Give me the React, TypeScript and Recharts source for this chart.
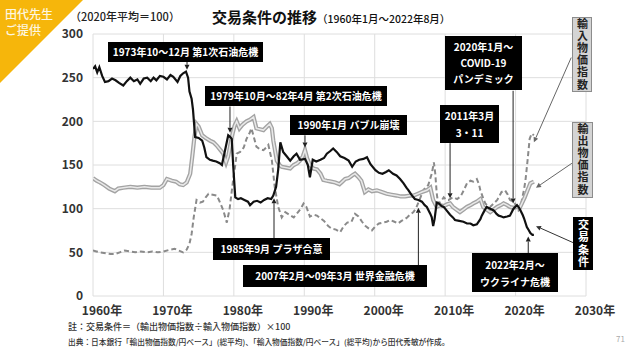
import React from "react"
import { LineChart, Line, XAxis, YAxis, CartesianGrid, ReferenceLine } from "recharts"

// 交易条件 (輸出物価指数 ÷ 輸入物価指数 × 100)
const tradeYears = [
  1960.0, 1960.3, 1960.6, 1960.9, 1961.3, 1961.7, 1962.2, 1962.7, 1963.2, 1963.7, 1964.3, 1964.8,
  1965.3, 1965.8, 1966.3, 1966.7, 1967.2, 1967.7, 1968.2, 1968.6, 1969.0, 1969.5, 1970.0, 1970.5,
  1971.0, 1971.4, 1972.0, 1972.4, 1972.8, 1973.2, 1973.5, 1973.7, 1974.0, 1974.2, 1974.5, 1975.0,
  1975.5, 1975.8, 1976.1, 1976.6, 1977.0, 1977.5, 1978.0, 1978.3, 1978.7, 1979.2, 1979.5, 1979.7,
  1979.9, 1980.2, 1980.6, 1981.0, 1981.5, 1982.0, 1982.3, 1982.8, 1983.3, 1983.8, 1984.3, 1984.8,
  1985.3, 1985.6, 1986.0, 1986.3, 1986.6, 1987.0, 1987.5, 1988.0, 1988.5, 1988.9, 1989.4, 1990.1,
  1990.5, 1990.8, 1991.2, 1991.7, 1992.3, 1992.8, 1993.2, 1993.7, 1994.1, 1994.6, 1995.1, 1995.7,
  1996.3, 1996.8, 1997.3, 1997.8, 1998.4, 1998.9, 1999.4, 2000.1, 2000.6, 2001.1, 2001.6, 2002.0,
  2002.6, 2003.1, 2003.6, 2004.1, 2004.5, 2004.8, 2005.2, 2005.7, 2006.2, 2006.7, 2007.1, 2007.4,
  2007.9, 2008.1, 2008.3, 2008.5, 2008.8, 2009.1, 2009.5, 2009.8, 2010.2, 2010.7, 2011.1, 2011.4,
  2012.0, 2012.6, 2013.1, 2013.6, 2014.0, 2014.5, 2015.0, 2015.2, 2015.6, 2015.9, 2016.4, 2016.9,
  2017.3, 2017.6, 2018.0, 2018.3, 2018.8, 2019.2, 2019.7, 2020.2, 2020.5, 2020.7, 2021.0, 2021.2,
  2021.6, 2021.9, 2022.1, 2022.4, 2022.6,
]
const tradeValues = [
  260, 263, 256, 262, 252, 245, 246, 249, 247, 244, 241, 246,
  250, 246, 248, 243, 249, 250, 246, 250, 247, 252, 251, 248,
  253, 251, 245, 252, 255, 257, 250, 234, 226, 213, 182, 181,
  178, 170, 159, 156, 155, 154, 152, 150, 165, 184, 182, 180,
  150, 113, 111, 112, 110, 108, 104, 108, 109, 107, 110, 112,
  111, 115, 125, 145, 176, 165, 160, 155, 160, 163, 156, 157,
  150, 136, 156, 154, 156, 158, 163, 166, 169, 165, 160, 158,
  155, 148, 154, 156, 157, 159, 151, 144, 141, 140, 142, 144,
  140, 138, 134, 129, 124, 121, 116, 111, 110, 108, 104, 102,
  94, 90, 80, 88, 107, 106, 103, 102, 98, 93, 90, 87,
  86, 85, 83, 83, 81, 82, 88, 92, 98, 102, 100, 98,
  94, 92, 91, 90, 91, 92, 100, 104, 101, 98, 93, 89,
  79, 75, 72, 70, 70,
]

// 輸出物価指数
const exportYears = [
  1960.0, 1960.5, 1961.0, 1961.6, 1962.3, 1963.1, 1963.6, 1964.3, 1965.3, 1966.3, 1967.3, 1968.3,
  1969.5, 1970.0, 1970.5, 1971.2, 1971.8, 1972.3, 1972.8, 1973.3, 1973.8, 1974.1, 1974.4, 1974.7,
  1975.0, 1975.5, 1976.0, 1976.6, 1977.1, 1977.6, 1978.1, 1978.5, 1978.9, 1979.2, 1979.7, 1980.1,
  1980.4, 1980.8, 1981.2, 1981.8, 1982.3, 1982.8, 1983.2, 1983.7, 1984.2, 1984.7, 1985.1, 1985.4,
  1985.6, 1986.1, 1986.5, 1986.8, 1987.4, 1988.0, 1988.5, 1989.0, 1989.4, 1989.8, 1990.1, 1990.4,
  1990.8, 1991.3, 1991.8, 1992.3, 1992.7, 1993.2, 1993.8, 1994.4, 1995.0, 1995.4, 1995.8, 1996.3,
  1996.8, 1997.2, 1997.7, 1998.1, 1998.6, 1999.1, 1999.6, 2000.3, 2001.0, 2001.7, 2002.4, 2003.1,
  2003.7, 2004.3, 2005.0, 2005.5, 2006.1, 2006.7, 2007.4, 2007.9, 2008.3, 2008.8, 2009.3, 2009.8,
  2010.3, 2010.7, 2011.1, 2011.6, 2012.1, 2012.6, 2013.1, 2013.6, 2014.0, 2014.5, 2015.0, 2015.4,
  2015.9, 2016.4, 2016.9, 2017.4, 2017.9, 2018.3, 2018.8, 2019.2, 2019.7, 2020.2, 2020.6, 2020.9,
  2021.3, 2021.6, 2021.9, 2022.1, 2022.6,
]
const exportValues = [
  135, 132, 130, 127, 123, 120, 123, 124, 125, 124, 125, 124,
  124, 127, 134, 132, 131, 128, 127, 130, 140, 160, 182, 197,
  194, 184, 181, 178, 176, 172, 167, 163, 153, 160, 182, 195,
  200, 192, 196, 200, 202, 205, 192, 191, 190, 194, 197, 192,
  178, 155, 150, 148, 147, 146, 150, 152, 155, 160, 167, 158,
  150, 146, 145, 140, 133, 132, 131, 130, 128, 131, 134, 135,
  138, 140, 136, 132, 119, 122, 120, 121, 119, 117, 116, 115,
  114, 114, 115, 115, 117, 119, 121, 124, 110, 102, 104, 103,
  105, 106, 102, 99, 96, 99, 102, 104, 106, 108, 111, 102,
  99, 96, 99, 102, 104, 106, 104, 102, 101, 102, 101, 106,
  113, 119, 125, 129, 131,
]

// 輸入物価指数
const importYears = [
  1960.0, 1960.5, 1961.0, 1961.8, 1962.5, 1963.1, 1963.8, 1964.5, 1965.2, 1966.0, 1966.8, 1967.6,
  1968.4, 1969.2, 1970.0, 1970.9, 1971.6, 1972.2, 1972.8, 1973.3, 1973.7, 1974.0, 1974.3, 1974.5,
  1974.7, 1975.2, 1975.6, 1976.0, 1976.4, 1977.0, 1977.6, 1978.1, 1978.5, 1979.0, 1979.4, 1979.7,
  1979.9, 1980.2, 1980.4, 1980.9, 1981.4, 1981.8, 1982.2, 1982.5, 1982.9, 1983.2, 1983.7, 1984.2,
  1984.6, 1984.9, 1985.4, 1985.8, 1986.3, 1986.8, 1987.3, 1987.9, 1988.5, 1989.0, 1989.5, 1989.9,
  1990.3, 1990.8, 1991.3, 1991.8, 1992.3, 1992.8, 1993.4, 1993.9, 1994.5, 1995.1, 1995.6, 1996.1,
  1996.7, 1997.2, 1997.7, 1998.2, 1998.7, 1999.2, 1999.6, 2000.1, 2000.6, 2001.1, 2001.7, 2002.2,
  2002.8, 2003.3, 2003.8, 2004.3, 2004.6, 2005.0, 2005.5, 2005.9, 2006.2, 2006.6, 2006.9, 2007.3,
  2007.6, 2007.9, 2008.1, 2008.4, 2008.6, 2008.8, 2009.0, 2009.4, 2009.8, 2010.2, 2010.5, 2010.9,
  2011.2, 2011.7, 2012.2, 2012.7, 2013.1, 2013.6, 2014.0, 2014.5, 2014.8, 2015.0, 2015.4, 2015.7,
  2016.1, 2016.4, 2016.9, 2017.4, 2017.8, 2018.0, 2018.5, 2018.9, 2019.2, 2019.6, 2019.9, 2020.4,
  2020.7, 2020.9, 2021.2, 2021.4, 2021.7, 2022.0, 2022.3, 2022.6,
]
const importValues = [
  52, 51, 50, 49, 48, 48, 50, 52, 51, 50, 51, 50,
  51, 50, 51, 53, 54, 52, 50, 53, 60, 71, 90, 100,
  110, 107, 108, 113, 117, 116, 115, 106, 98, 84, 100, 120,
  133, 150, 163, 165, 170, 180, 186, 192, 180, 171, 168, 167,
  170, 173, 155, 125, 102, 90, 96, 93, 90, 95, 100, 106,
  102, 91, 93, 92, 89, 86, 80, 77, 76, 73, 80, 84,
  85, 94, 91, 85, 80, 77, 75, 80, 83, 84, 85, 87,
  85, 83, 86, 88, 90, 93, 96, 101, 107, 115, 121, 125,
  127, 135, 140, 153, 140, 118, 106, 108, 113, 110, 110, 112,
  113, 111, 114, 122, 129, 132, 131, 134, 128, 121, 112, 106,
  103, 102, 106, 110, 116, 119, 121, 116, 110, 108, 106, 98,
  101, 110, 122, 132, 155, 180, 186, 184,
]

const yearTicks = [1960, 1970, 1980, 1990, 2000, 2010, 2020, 2030]
const valueTicks = [0, 50, 100, 150, 200, 250, 300]
const gridYears = [
  1960, 1963.3, 1966.7, 1970, 1973.3, 1976.7, 1980, 1983.3, 1986.7, 1990, 1993.3, 1996.7, 2000,
  2003.3, 2006.7, 2010, 2013.3, 2016.7, 2020, 2023.3, 2026.7, 2030,
]

const toPoints = (years: number[], values: number[]) =>
  years.map((year, i) => ({ year, value: values[i] }))

const tradeData = toPoints(tradeYears, tradeValues)
const exportData = toPoints(exportYears, exportValues)
const importData = toPoints(importYears, importValues)

// 注記の矢印 (始点 → 終点, データ座標)
const arrows = [
  { from: [1973.35, 268], to: [1973.35, 259], color: "#222" },
  { from: [1979.45, 217], to: [1979.45, 187], color: "#222" },
  { from: [1990.1, 184], to: [1990.1, 170], color: "#222" },
  { from: [1985.7, 66], to: [1985.7, 112], color: "#222" },
  { from: [2006.2, 35], to: [2006.2, 101], color: "#222" },
  { from: [2010.7, 175], to: [2010.7, 112], color: "#222" },
  { from: [2019.65, 235], to: [2019.65, 106], color: "#222" },
  { from: [2021.8, 49], to: [2021.8, 68], color: "#222" },
  { from: [2027.9, 273], to: [2022.6, 176], color: "#666" },
  { from: [2028.0, 152], to: [2022.9, 124], color: "#666" },
  { from: [2028.2, 61], to: [2022.9, 80], color: "#333" },
]

const ArrowShape = (props: any) => {
  const { x1, y1, x2, y2, stroke } = props
  if ([x1, y1, x2, y2].some((v) => v == null || isNaN(v))) return null
  const ang = Math.atan2(y2 - y1, x2 - x1)
  const len = 5
  const w = 2.5
  const bx = x2 - len * Math.cos(ang)
  const by = y2 - len * Math.sin(ang)
  const px = -Math.sin(ang) * w
  const py = Math.cos(ang) * w
  return (
    <g>
      <line x1={x1} y1={y1} x2={bx} y2={by} stroke={stroke} strokeWidth={1} />
      <polygon points={`${x2},${y2} ${bx + px},${by + py} ${bx - px},${by - py}`} fill={stroke} />
    </g>
  )
}

const JP = '"Noto Sans CJK JP", "Noto Sans", sans-serif'

function Box({ x, y, w, h, lines, size = 10 }: { x: number; y: number; w: number; h: number; lines: string[]; size?: number }) {
  return (
    <div
      style={{
        position: "absolute",
        left: x,
        top: y,
        width: w,
        height: h,
        background: "#000",
        color: "#fff",
        fontWeight: 700,
        fontSize: size,
        lineHeight: `${Math.floor((h - 4) / lines.length)}px`,
        display: "flex",
        flexDirection: "column",
        alignItems: "center",
        justifyContent: "center",
        whiteSpace: "nowrap",
      }}
    >
      {lines.map((t, i) => (
        <div key={i}>{t}</div>
      ))}
    </div>
  )
}

// 縦書きラベル
function SideLabel({ x, y, w, h, text, dark, spacing }: { x: number; y: number; w: number; h: number; text: string; dark?: boolean; spacing: number }) {
  return (
    <div
      style={{
        position: "absolute",
        left: x,
        top: y,
        width: w,
        height: h,
        boxSizing: "border-box",
        background: dark ? "#000" : "#d4d4d4",
        border: dark ? "none" : "1px solid #8c8c8c",
        color: dark ? "#fff" : "#222",
        display: "flex",
        alignItems: "center",
        justifyContent: "center",
      }}
    >
      <span
        style={{
          writingMode: "vertical-rl",
          textOrientation: "upright",
          whiteSpace: "nowrap",
          fontWeight: 700,
          fontSize: 11,
          lineHeight: 1,
          letterSpacing: spacing,
        }}
      >
        {text}
      </span>
    </div>
  )
}

export default function App() {
  const tickStyle = { fontSize: 12, fontWeight: 700, fill: "#333", fontFamily: JP }
  return (
    <div style={{ position: "absolute", left: 0, top: 0, width: 640, height: 360, background: "#fff", fontFamily: JP, overflow: "hidden" }}>
      <svg width={90} height={90} style={{ position: "absolute", left: 0, top: 0 }}>
        <polygon points="0,0 83,0 0,83" fill="#f6b60b" />
      </svg>
      <div style={{ position: "absolute", left: 5, top: 6, fontSize: 12, color: "#fdf6e0", fontWeight: 500 }}>
        <div style={{ lineHeight: "16px", height: 16 }}>田代先生</div>
        <div style={{ lineHeight: "16px", height: 16 }}>ご提供</div>
      </div>

      <div style={{ position: "absolute", left: 70, top: 9, fontSize: 11, lineHeight: "15px", color: "#222", fontWeight: 500 }}>（2020年平均＝100）</div>
      <div style={{ position: "absolute", left: 212, top: 6, color: "#111", whiteSpace: "nowrap", lineHeight: "20px" }}>
        <span style={{ fontSize: 15, fontWeight: 700 }}>交易条件の推移</span>
        <span style={{ fontSize: 10.5, fontWeight: 500 }}>（1960年1月～2022年8月）</span>
      </div>

      <div style={{ position: "absolute", left: 0, top: 0 }}>
        <LineChart width={640} height={360} margin={{ top: 34, right: 54, bottom: 34, left: 53 }}>
          <CartesianGrid stroke="#dedede" strokeWidth={1} verticalValues={gridYears} horizontalValues={valueTicks} />
          <XAxis
            dataKey="year"
            type="number"
            domain={[1960, 2030]}
            ticks={yearTicks}
            tickFormatter={(v: number) => `${v}年`}
            axisLine={false}
            tickLine={false}
            tickSize={0}
            tickMargin={10}
            height={30}
            tick={{ ...tickStyle, dx: 9 }}
            allowDataOverflow
          />
          <YAxis
            type="number"
            domain={[0, 300]}
            ticks={valueTicks}
            axisLine={false}
            tickLine={false}
            tickSize={0}
            tickMargin={10}
            width={40}
            tick={tickStyle}
            allowDataOverflow
          />
          <Line data={importData} dataKey="value" stroke="#8a8a8a" strokeWidth={2} strokeDasharray="5 3" dot={false} isAnimationActive={false} />
          <Line data={exportData} dataKey="value" stroke="#a3a3a3" strokeWidth={4.2} dot={false} isAnimationActive={false} />
          <Line data={exportData} dataKey="value" stroke="#e9e9e9" strokeWidth={1.5} dot={false} isAnimationActive={false} />
          <Line data={tradeData} dataKey="value" stroke="#111" strokeWidth={2.2} dot={false} isAnimationActive={false} />
          {arrows.map((a, i) => (
            <ReferenceLine
              key={i}
              segment={[
                { x: a.from[0], y: a.from[1] },
                { x: a.to[0], y: a.to[1] },
              ]}
              stroke={a.color}
              ifOverflow="visible"
              shape={ArrowShape}
            />
          ))}
        </LineChart>
      </div>

      <Box x={108} y={42} w={155} h={20} lines={["1973年10～12月 第1次石油危機"]} />
      <Box x={205} y={86} w={182} h={20} lines={["1979年10月～82年4月 第2次石油危機"]} />
      <Box x={290} y={115} w={117} h={20} lines={["1990年1月 バブル崩壊"]} />
      <Box x={213} y={238} w={117} h={22} lines={["1985年9月 プラザ合意"]} />
      <Box x={243} y={265} w={184} h={22} lines={["2007年2月～09年3月 世界金融危機"]} />
      <Box x={440} y={105} w={59} h={38} lines={["2011年3月", "3・11"]} />
      <Box x={445} y={36} w={77} h={54} lines={["2020年1月～", "COVID-19", "パンデミック"]} />
      <Box x={472} y={253} w={86} h={39} lines={["2022年2月～", "ウクライナ危機"]} />

      <SideLabel x={572} y={17} w={20} h={75} text="輸入物価指数" spacing={1.2} />
      <SideLabel x={572} y={122} w={21} h={76} text="輸出物価指数" spacing={1.2} />
      <SideLabel x={573} y={217} w={20} h={53} text="交易条件" dark spacing={1.5} />

      <div style={{ position: "absolute", left: 68, top: 320, fontSize: 9, color: "#333", whiteSpace: "nowrap", fontWeight: 500 }}>
        註：交易条件＝（輸出物価指数÷輸入物価指数）×100
      </div>
      <div style={{ position: "absolute", left: 68, top: 336, fontSize: 7.7, color: "#333", whiteSpace: "nowrap", fontWeight: 500 }}>
        出典：日本銀行「輸出物価指数/円ベース」(総平均)、「輸入物価指数/円ベース」(総平均)から田代秀敏が作成。
      </div>
      <div style={{ position: "absolute", left: 616, top: 333, fontSize: 8, color: "#aaa" }}>71</div>
    </div>
  )
}
